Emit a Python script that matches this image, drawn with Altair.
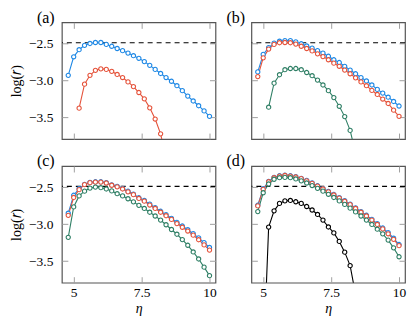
import altair as alt
import pandas as pd

ETA = [4.8, 5.0, 5.2, 5.4, 5.6, 5.8, 6.0, 6.2, 6.4, 6.6, 6.8, 7.0, 7.2, 7.4,
       7.6, 7.8, 8.0, 8.2, 8.4, 8.6, 8.8, 9.0, 9.2, 9.4, 9.6, 9.8, 10.0]

A_BLUE = [-2.93, -2.68, -2.584, -2.525, -2.50, -2.487, -2.487, -2.513, -2.538,
          -2.568, -2.597, -2.63, -2.665, -2.70, -2.745, -2.795, -2.85, -2.905,
          -2.96, -3.01, -3.07, -3.137, -3.21, -3.276, -3.34, -3.41, -3.483]
A_RED = [-3.373, -3.049, -2.93, -2.863, -2.842, -2.85, -2.876, -2.918, -2.96,
         -3.019, -3.082, -3.162, -3.247, -3.369, -3.52, -3.72, -4.05]

B_BLUE = [-2.884, -2.648, -2.555, -2.496, -2.47, -2.462, -2.462, -2.479, -2.504,
          -2.534, -2.563, -2.597, -2.63, -2.673, -2.72, -2.757, -2.808, -2.859,
          -2.909, -2.96, -3.006, -3.06, -3.12, -3.17, -3.225, -3.283, -3.344]
B_RED = [-2.947, -2.694, -2.576, -2.513, -2.49, -2.487, -2.49, -2.508, -2.538,
         -2.568, -2.60, -2.64, -2.677, -2.72, -2.766, -2.808, -2.859, -2.909,
         -2.964, -3.019, -3.07, -3.133, -3.188, -3.25, -3.31, -3.40, -3.483]
B_GREEN = [-3.36, -3.036, -2.922, -2.854, -2.838, -2.838, -2.854, -2.892, -2.935,
           -2.994, -3.06, -3.137, -3.23, -3.348, -3.487, -3.673, -3.98]

C_BLUE = [-2.852, -2.61, -2.522, -2.462, -2.437, -2.428, -2.428, -2.441, -2.47,
          -2.49, -2.518, -2.556, -2.594, -2.644, -2.68, -2.73, -2.776, -2.826,
          -2.872, -2.921, -2.976, -3.025, -3.075, -3.128, -3.185, -3.25, -3.315]
C_RED = [-2.881, -2.64, -2.534, -2.466, -2.44, -2.432, -2.432, -2.445, -2.475,
         -2.496, -2.525, -2.564, -2.602, -2.653, -2.69, -2.742, -2.788, -2.839,
         -2.886, -2.936, -2.992, -3.042, -3.093, -3.148, -3.21, -3.28, -3.35]
C_GREEN = [-3.178, -2.767, -2.619, -2.555, -2.513, -2.50, -2.508, -2.525, -2.551,
           -2.589, -2.619, -2.657, -2.699, -2.746, -2.788, -2.839, -2.89, -2.945,
           -3.008, -3.072, -3.136, -3.208, -3.285, -3.375, -3.47, -3.58, -3.695]

D_BLUE = [-2.745, -2.522, -2.422, -2.368, -2.347, -2.338, -2.347, -2.36, -2.382,
          -2.41, -2.444, -2.482, -2.52, -2.558, -2.6, -2.642, -2.684, -2.73,
          -2.78, -2.83, -2.88, -2.935, -2.993, -3.052, -3.115, -3.19, -3.275]
D_RED = [-2.754, -2.53, -2.428, -2.373, -2.352, -2.343, -2.352, -2.364, -2.386,
         -2.415, -2.449, -2.487, -2.525, -2.564, -2.606, -2.648, -2.691, -2.737,
         -2.788, -2.839, -2.89, -2.945, -3.004, -3.064, -3.13, -3.205, -3.29]
D_GREEN = [-2.83, -2.576, -2.458, -2.394, -2.373, -2.369, -2.373, -2.39, -2.415,
           -2.445, -2.479, -2.517, -2.555, -2.597, -2.64, -2.686, -2.733, -2.784,
           -2.835, -2.89, -2.945, -3.004, -3.068, -3.131, -3.215, -3.32, -3.44]
D_BLACK = [-4.9, -3.04, -2.82, -2.72, -2.685, -2.68, -2.698, -2.72, -2.762,
           -2.809, -2.869, -2.945, -3.038, -3.118, -3.233, -3.378, -3.56, -3.95]

LEVEL = [-2.49]
X_TICKS = [5, 7.5, 10]
Y_TICKS = [-2.5, -3.0, -3.5]
NAMES = ["blue", "red", "green", "black"]
COLORS = ["#1E88E5", "#E5533B", "#2F7F65", "#000000"]
LABELS = ["(a)", "(b)", "(c)", "(d)"]

XDOM = [4.565, 10.22]
YDOM = [-3.79, -2.215]
W, H = 154, 117
FONT = "Liberation Serif"
TICKC = "#a0a0a0"


def make_df(series):
    rows = []
    for name, xs, ys in series:
        for xv, yv in zip(xs, ys):
            rows.append({"x": xv, "y": yv, "s": name})
    return pd.DataFrame(rows)


def panel(series, label, xlab, ylab):
    df = make_df(series)
    tick_df = pd.DataFrame({"x": X_TICKS, "y": Y_TICKS})
    xs = alt.Scale(domain=XDOM, nice=False, zero=False)
    ys = alt.Scale(domain=YDOM, nice=False, zero=False)
    col = alt.Color("s:N", scale=alt.Scale(domain=NAMES, range=COLORS),
                    legend=None, sort=NAMES)
    base = alt.Chart(df)
    if xlab:
        xa = alt.Axis(orient="bottom", values=X_TICKS, labelExpr="'' + datum.value",
                      ticks=False, domain=False, grid=False, labelPadding=3,
                      title="η", titleFontStyle="italic", titlePadding=2)
    else:
        xa = None
    if ylab:
        ya = alt.Axis(orient="left", values=Y_TICKS, format=".1f", ticks=False,
                      domain=False, grid=False, labelPadding=9,
                      title="log(𝑟)", titlePadding=5)
    else:
        ya = None
    lines = base.mark_line(clip=True, strokeWidth=1.1).encode(
        x=alt.X("x:Q", scale=xs, axis=xa),
        y=alt.Y("y:Q", scale=ys, axis=ya),
        color=col,
    )
    pts = base.mark_point(clip=True, filled=False, fill="white", fillOpacity=1,
                          size=18, strokeWidth=1.1, opacity=1).encode(
        x=alt.X("x:Q", scale=xs, axis=None),
        y=alt.Y("y:Q", scale=ys, axis=None),
        color=col,
    )
    tx = dict(values=X_TICKS, labels=False, domain=False, grid=False, ticks=True,
              tickSize=6, tickColor=TICKC, tickWidth=1, title=None)
    ty = dict(values=Y_TICKS, labels=False, domain=False, grid=False, ticks=True,
              tickSize=6, tickColor=TICKC, tickWidth=1, title=None)
    tbase = alt.Chart(tick_df)
    t1 = tbase.mark_point(opacity=0, clip=True).encode(
        x=alt.X("x:Q", scale=xs, axis=alt.Axis(orient="top", offset=-H, **tx)),
        y=alt.Y("y:Q", scale=ys, axis=alt.Axis(orient="right", offset=-W, **ty)),
    )
    t2 = tbase.mark_point(opacity=0, clip=True).encode(
        x=alt.X("x:Q", scale=xs, axis=alt.Axis(orient="bottom", offset=-H, **tx)),
        y=alt.Y("y:Q", scale=ys, axis=alt.Axis(orient="left", offset=-W, **ty)),
    )
    rule = alt.Chart(pd.DataFrame({"y": LEVEL})).mark_rule(
        strokeDash=[5, 4], color="black", strokeWidth=1.1, clip=True).encode(
        y=alt.Y("y:Q", scale=ys, axis=None))
    return alt.layer(rule, lines, pts, t1, t2).resolve_axis(
        x="independent", y="independent").properties(
        width=W, height=H,
        title=alt.TitleParams(label, anchor="start", frame="group", dx=-25,
                              offset=-17, baseline="alphabetic", fontSize=16,
                              font=FONT, fontWeight="normal", color="black"))


pa = panel([("blue", ETA, A_BLUE), ("red", ETA[2:19], A_RED)], LABELS[0], False, True)
pb = panel([("blue", ETA, B_BLUE), ("red", ETA, B_RED), ("green", ETA[2:19], B_GREEN)],
           LABELS[1], False, False)
pc = panel([("blue", ETA, C_BLUE), ("red", ETA, C_RED), ("green", ETA, C_GREEN)],
           LABELS[2], True, True)
pd_ = panel([("blue", ETA, D_BLUE), ("red", ETA, D_RED), ("green", ETA, D_GREEN),
             ("black", ETA[1:19], D_BLACK)], LABELS[3], True, False)

chart = alt.concat(pa, pb, pc, pd_, columns=2, spacing={"row": 27, "column": 36},
                   bounds="flush").properties(
    padding=0
).configure_view(stroke="#555555", strokeWidth=1.2).configure_axis(
    labelFont=FONT, titleFont=FONT, labelFontSize=13.5, titleFontSize=14,
    labelColor="black", titleColor="black", titleFontWeight="normal")

chart.save("out.html", embed_options={"renderer": "svg", "actions": False})
